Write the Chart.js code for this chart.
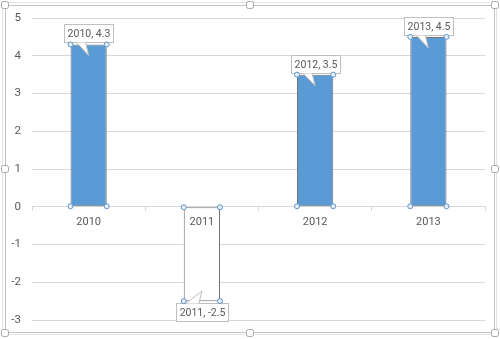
<!DOCTYPE html>
<html>
<head>
<meta charset="utf-8">
<script src="https://cdn.jsdelivr.net/npm/chart.js@4"></script>
<style>
  html, body { margin: 0; padding: 0; background: #fff; }
  canvas { display: block; }
</style>
</head>
<body>
<canvas id="myChart" width="500" height="339"></canvas>
<script>
const years = ["2010", "2011", "2012", "2013"];
const values = [4.3, -2.5, 3.5, 4.5];
const yTicks = [-3, -2, -1, 0, 1, 2, 3, 4, 5];

const textColor = "#595959";
const gridColor = "#d9d9d9";

// khung ngoài + tay cầm chọn
const framePlugin = {
  id: "frame",
  afterDraw(chart) {
    const c = chart.ctx;
    c.save();
    c.strokeStyle = "#e3e3e3";
    c.lineWidth = 1;
    c.strokeRect(2.5, 2.5, 494, 332);
    c.strokeStyle = "#c4c4c4";
    c.strokeRect(5.5, 5.5, 489, 327);
    const pts = [[5, 5], [250, 5], [495, 5], [5, 169], [495, 169], [5, 333], [250, 333], [495, 333]];
    pts.forEach(([x, y]) => {
      c.beginPath();
      c.roundRect(x - 3.5, y - 3.5, 7, 7, 2);
      c.fillStyle = "#fff";
      c.fill();
      c.strokeStyle = "#a6a6a6";
      c.stroke();
    });
    c.restore();
  },
};

// nhãn dữ liệu dạng callout
const calloutPlugin = {
  id: "callout",
  afterDraw(chart) {
    const c = chart.ctx;
    const meta = chart.getDatasetMeta(0);
    c.save();
    c.font = "10.5px Roboto";
    c.textAlign = "center";
    c.textBaseline = "middle";
    meta.data.forEach((bar, i) => {
      const v = values[i];
      const label = years[i] + ", " + v;
      const w = Math.round(c.measureText(label).width + 6);
      const h = 18;
      const cx = bar.x;
      const left = Math.round(cx - w / 2) + 0.5;
      let top, baseY, tipY, b1, b2;
      if (v >= 0) {
        top = Math.round(bar.y - 2 - h) + 0.5;
        baseY = top + h;
        tipY = bar.y + 11;
        b1 = cx - 12; b2 = cx - 3;
      } else {
        top = Math.round(bar.y + 2) + 0.5;
        baseY = top;
        tipY = bar.y - 10;
        b1 = cx - 16; b2 = cx - 3;
      }
      // hộp
      c.fillStyle = "#fff";
      c.fillRect(left, top, w, h);
      c.strokeStyle = "#bfbfbf";
      c.lineWidth = 1;
      c.strokeRect(left, top, w, h);
      // mũi nhọn
      c.beginPath();
      c.moveTo(b1, baseY);
      c.lineTo(cx, tipY);
      c.lineTo(b2, baseY);
      c.closePath();
      c.fillStyle = "#fff";
      c.fill();
      c.beginPath();
      c.moveTo(b1, baseY);
      c.lineTo(cx, tipY);
      c.lineTo(b2, baseY);
      c.strokeStyle = "#bfbfbf";
      c.stroke();
      // chữ
      c.fillStyle = textColor;
      c.fillText(label, left + w / 2, top + h / 2 + 0.5);
    });
    // tay cầm ở góc cột
    meta.data.forEach((bar) => {
      const half = bar.width / 2;
      [[bar.x - half, bar.y], [bar.x + half, bar.y], [bar.x - half, bar.base], [bar.x + half, bar.base]].forEach(([x, y]) => {
        c.beginPath();
        c.arc(x, y, 2.5, 0, Math.PI * 2);
        c.fillStyle = "#e6eef8";
        c.fill();
        c.strokeStyle = "#5f94cc";
        c.lineWidth = 1;
        c.stroke();
      });
    });
    c.restore();
  },
};

const ctx = document.getElementById("myChart");

new Chart(ctx, {
  type: "bar",
  data: {
    labels: years,
    datasets: [
      {
        data: values,
        backgroundColor: values.map((v) => (v >= 0 ? "#5b9bd5" : "#ffffff")),
        borderColor: "#737373",
        borderWidth: 1,
        borderSkipped: false,
        categoryPercentage: 1,
        barPercentage: 0.32,
      },
    ],
  },
  options: {
    responsive: false,
    animation: false,
    events: [],
    layout: { padding: { left: 0, right: 15, top: 18, bottom: 19 } },
    plugins: {
      legend: { display: false },
      tooltip: { enabled: false },
    },
    scales: {
      x: {
        position: { y: 0 },
        grid: {
          display: true,
          drawOnChartArea: false,
          drawTicks: true,
          tickLength: 4,
          color: gridColor,
        },
        border: { color: gridColor },
        ticks: {
          z: 1, // vẽ nhãn trục lên trên cột
          color: textColor,
          font: { family: "Roboto", size: 11 },
          padding: 5,
        },
      },
      y: {
        min: yTicks[0],
        max: yTicks[yTicks.length - 1],
        afterBuildTicks: (s) => {
          s.ticks = yTicks.map((v) => ({ value: v }));
        },
        afterFit: (s) => {
          s.width = 32;
        },
        grid: { color: gridColor, drawTicks: false },
        border: { display: false },
        ticks: {
          color: textColor,
          font: { family: "Roboto", size: 11.5 },
          padding: 11,
        },
      },
    },
  },
  plugins: [calloutPlugin, framePlugin],
});
</script>
</body>
</html>
